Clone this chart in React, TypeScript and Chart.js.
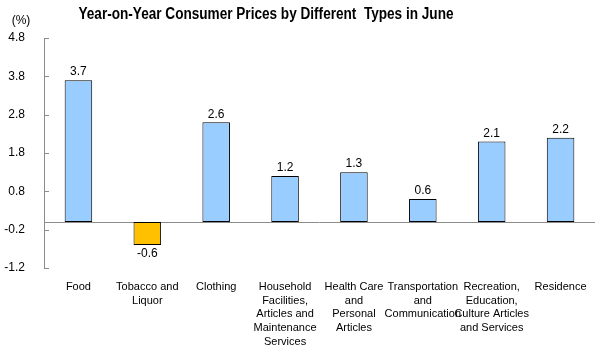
import React, { useEffect, useRef } from "react";
import { Chart, registerables } from "chart.js";

Chart.register(...registerables);

const categories: string[][] = [
  ["Food"],
  ["Tobacco and", "Liquor"],
  ["Clothing"],
  ["Household", "Facilities,", "Articles and", "Maintenance", "Services"],
  ["Health Care", "and", "Personal", "Articles"],
  ["Transportation", "and", "Communication"],
  ["Recreation,", "Education,", "Culture Articles", "and Services"],
  ["Residence"],
];
const values: number[] = [3.7, -0.6, 2.6, 1.2, 1.3, 0.6, 2.1, 2.2];
const yMin = -1.2;
const yMax = 4.8;
const yStep = 1;
const titleText = "Year-on-Year Consumer Prices by Different  Types in June";
const unitText = "(%)";

const FONT = "Arial, 'Liberation Sans', sans-serif";

const decorPlugin = {
  id: "decor",
  beforeDatasetsDraw(chart: any) {
    const { ctx, chartArea, scales } = chart;
    const y = scales.y;
    ctx.save();
    const y0 = Math.round(y.getPixelForValue(0)) + 0.5;
    ctx.strokeStyle = "#8c8c8c";
    ctx.lineWidth = 1;
    ctx.beginPath();
    ctx.moveTo(chartArea.left, y0);
    ctx.lineTo(chartArea.right, y0);
    ctx.stroke();
    ctx.restore();
  },
  afterDatasetsDraw(chart: any) {
    const { ctx, chartArea, scales } = chart;
    const y = scales.y;
    ctx.save();
    ctx.strokeStyle = "#8c8c8c";
    ctx.lineWidth = 1;
    y.ticks.forEach((t: any) => {
      const py = Math.round(y.getPixelForValue(t.value)) + 0.5;
      ctx.beginPath();
      ctx.moveTo(chartArea.left, py);
      ctx.lineTo(chartArea.left + 5, py);
      ctx.stroke();
    });
    ctx.fillStyle = "#000";
    ctx.font = `12px ${FONT}`;
    ctx.textAlign = "center";
    const meta = chart.getDatasetMeta(0);
    meta.data.forEach((bar: any, i: number) => {
      const v = values[i];
      if (v >= 0) {
        ctx.textBaseline = "bottom";
        ctx.fillText(v.toFixed(1), bar.x, bar.y - 2);
      } else {
        ctx.textBaseline = "top";
        ctx.fillText(v.toFixed(1), bar.x, bar.y + 3);
      }
    });
    // title, horizontally condensed to match reference width
    ctx.font = `bold 16px ${FONT}`;
    ctx.textBaseline = "middle";
    ctx.textAlign = "center";
    const w = ctx.measureText(titleText).width;
    const sx = 375 / w;
    ctx.save();
    ctx.translate(266, 15);
    ctx.scale(sx, 1);
    ctx.fillText(titleText, 0, 0);
    ctx.restore();
    ctx.font = `12px ${FONT}`;
    ctx.fillText(unitText, 21, 21);
    ctx.restore();
  },
};

export default function App() {
  const ref = useRef<HTMLCanvasElement | null>(null);
  useEffect(() => {
    if (!ref.current) return;
    const chart = new Chart(ref.current, {
      type: "bar",
      data: {
        labels: categories,
        datasets: [
          {
            data: values,
            backgroundColor: values.map((v) => (v < 0 ? "#FFC000" : "#99CCFF")),
            borderColor: "#000000",
            borderWidth: 1,
            borderSkipped: false,
            barPercentage: 0.4,
            categoryPercentage: 1,
          },
        ],
      },
      options: {
        animation: false,
        responsive: false,
        maintainAspectRatio: false,
        layout: { padding: { top: 38, right: 13, left: 0, bottom: 0 } },
        plugins: {
          legend: { display: false },
          title: { display: false },
          tooltip: { enabled: false },
        },
        scales: {
          x: {
            grid: { display: false, drawTicks: false },
            border: { display: false },
            ticks: {
              color: "#000",
              font: { family: FONT, size: 11, lineHeight: 1.25 },
              padding: 12,
              maxRotation: 0,
              autoSkip: false,
            },
            afterFit: (s: any) => {
              s.height = 86;
            },
          },
          y: {
            min: yMin,
            max: yMax,
            grid: { display: false, drawTicks: false },
            border: { display: true, color: "#8c8c8c", width: 1 },
            ticks: {
              stepSize: yStep,
              color: "#000",
              font: { family: FONT, size: 12 },
              padding: 19,
              callback: (v: any) => Number(v).toFixed(1),
            },
            afterBuildTicks: (s: any) => {
              const t = [];
              for (let v = yMin; v <= yMax + 1e-9; v += yStep) t.push({ value: Math.round(v * 10) / 10 });
              s.ticks = t;
            },
            afterFit: (s: any) => {
              s.width = 44;
            },
          },
        },
      },
      plugins: [decorPlugin],
    });
    return () => chart.destroy();
  }, []);
  return (
    <div style={{ position: "fixed", left: 0, top: 0, width: 608, height: 354, background: "#fff" }}>
      <canvas ref={ref} width={608} height={354} style={{ display: "block" }} />
    </div>
  );
}
